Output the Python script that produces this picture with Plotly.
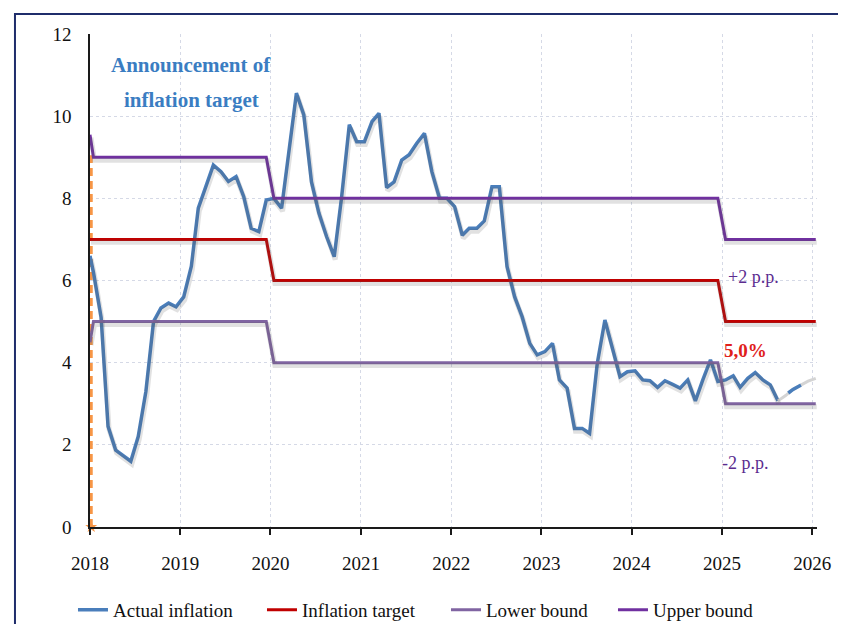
import plotly.graph_objects as go

# ---------------- data ----------------
# Actual inflation, monthly (mid-month), Jan 2018 .. Aug 2025, preceded by the start point
actual_start_date = "2018-01-01"
actual_start_value = 6.6
actual_values = [
    # 2018
    6.2, 5.1, 2.45, 1.87, 1.73, 1.6, 2.2, 3.3, 5.0, 5.33, 5.45, 5.36,
    # 2019
    5.6, 6.35, 7.76, 8.28, 8.81, 8.65, 8.41, 8.53, 8.04, 7.27, 7.19, 7.96,
    # 2020
    8.0, 7.76, 9.1, 10.56, 10.03, 8.4, 7.64, 7.07, 6.58, 8.04, 9.79, 9.38,
    # 2021
    9.38, 9.87, 10.07, 8.26, 8.4, 8.93, 9.06, 9.34, 9.58, 8.65, 8.0, 8.0,
    # 2022
    7.8, 7.1, 7.27, 7.27, 7.45, 8.28, 8.28, 6.34, 5.6, 5.12, 4.47, 4.19,
    # 2023
    4.27, 4.47, 3.58, 3.38, 2.4, 2.4, 2.28, 3.98, 5.04, 4.39, 3.66, 3.78,
    # 2024
    3.8, 3.58, 3.56, 3.4, 3.56, 3.47, 3.38, 3.58, 3.07, 3.58, 4.07, 3.54,
    # 2025
    3.58, 3.68, 3.4, 3.62, 3.76, 3.58, 3.46, 3.07,
]
# Forecast (dashed), Aug 2025 .. Jan 2026
forecast_dates = ["2025-08-15", "2025-09-15", "2025-10-15", "2025-11-15", "2025-12-15", "2026-01-15"]
forecast_values = [3.07, 3.2, 3.35, 3.45, 3.55, 3.62]

# Target corridor (break points)
band_dates = ["2018-01-01", "2018-01-15", "2019-12-15", "2020-01-15", "2024-12-15", "2025-01-15", "2026-01-15"]
target_values = [7, 7, 7, 6, 6, 5, 5]
lower_values = [4.5, 5, 5, 4, 4, 3, 3]
upper_values = [9.55, 9, 9, 8, 8, 7, 7]

# Announcement marker
announce_dates = ["2018-01-06", "2018-01-06"]
announce_values = [0, 9.05]

year_ticks = [f"{y}-01-01" for y in range(2018, 2027)]
year_labels = [str(y) for y in range(2018, 2027)]
y_ticks = [0, 2, 4, 6, 8, 10, 12]

# ---------------- build ----------------
months = []
for y in range(2018, 2026):
    for m in range(1, 13):
        months.append(f"{y}-{m:02d}-15")
actual_dates = [actual_start_date] + months[:len(actual_values)]
actual_all = [actual_start_value] + actual_values

FONT = "Liberation Serif, Times New Roman, serif"
C_ACT = "#4a7ebb"
C_TGT = "#c00000"
C_LOW = "#8064a2"
C_UPP = "#7030a0"
SHADOW = "rgba(90,90,90,0.18)"

fig = go.Figure()

# soft drop shadows (same data drawn on a slightly offset overlay axis pair)
for xs, ys in [(actual_dates, actual_all), (band_dates, target_values),
               (band_dates, lower_values), (band_dates, upper_values)]:
    fig.add_trace(go.Scatter(x=xs, y=ys, mode="lines", xaxis="x2", yaxis="y2",
                             line=dict(color=SHADOW, width=5), showlegend=False,
                             hoverinfo="skip"))

fig.add_trace(go.Scatter(x=announce_dates, y=announce_values, mode="lines",
                         line=dict(color="#f79646", width=3, dash="8px,5px"),
                         showlegend=False, hoverinfo="skip"))
fig.add_trace(go.Scatter(x=announce_dates[:1], y=announce_values[:1], mode="markers",
                         marker=dict(symbol="star", size=9, color="#f79646"),
                         showlegend=False, hoverinfo="skip", cliponaxis=False))

fig.add_trace(go.Scatter(x=actual_dates, y=actual_all, mode="lines", name="Actual inflation",
                         line=dict(color=C_ACT, width=3.5), legendwidth=144))
fig.add_trace(go.Scatter(x=forecast_dates, y=forecast_values, mode="lines",
                         line=dict(color="#d4d4d4", width=3), showlegend=False, hoverinfo="skip"))
fig.add_trace(go.Scatter(x=forecast_dates, y=forecast_values, mode="lines",
                         line=dict(color=C_ACT, width=3.5, dash="0px,13px,15px,12px"),
                         showlegend=False, hoverinfo="skip"))

fig.add_trace(go.Scatter(x=band_dates, y=target_values, mode="lines", name="Inflation target",
                         line=dict(color=C_TGT, width=3), legendwidth=139))
fig.add_trace(go.Scatter(x=band_dates, y=lower_values, mode="lines", name="Lower bound",
                         line=dict(color=C_LOW, width=3), legendwidth=122))
fig.add_trace(go.Scatter(x=band_dates, y=upper_values, mode="lines", name="Upper bound",
                         line=dict(color=C_UPP, width=3), legendwidth=110))

# figure is taller than the window so nothing pushes the margins; only the top 616 px show
fig.update_layout(
    width=846, height=660,
    margin=dict(l=82, r=37, t=26, b=141),
    paper_bgcolor="white", plot_bgcolor="white",
    font=dict(family=FONT, size=19, color="#111111"),
    showlegend=True,
    legend=dict(orientation="h", x=-0.0234, xanchor="left", y=-0.168, yanchor="middle",
                font=dict(family=FONT, size=19, color="#111111"),
                bgcolor="rgba(0,0,0,0)", itemwidth=30, traceorder="normal"),
    xaxis=dict(type="date", range=["2018-01-01", "2026-01-20"],
               tickmode="array", tickvals=year_ticks, ticktext=year_labels,
               showgrid=True, gridcolor="#d5d9e6", griddash="dot", gridwidth=1,
               showline=True, linecolor="#1a1a1a", linewidth=1.5,
               ticks="outside", ticklen=6, tickwidth=1.5, tickcolor="#1a1a1a",
               ticklabelstandoff=12, zeroline=False,
               tickfont=dict(family=FONT, size=19, color="#111111")),
    yaxis=dict(range=[0, 12], tickmode="array", tickvals=y_ticks,
               showgrid=True, gridcolor="#d5d9e6", griddash="dot", gridwidth=1,
               showline=True, linecolor="#1a1a1a", linewidth=1.5,
               ticks="", ticklabelstandoff=13, zeroline=False,
               tickfont=dict(family=FONT, size=19, color="#111111")),
    xaxis2=dict(type="date", overlaying="x", visible=False,
                range=["2017-12-28", "2026-01-16"]),
    yaxis2=dict(overlaying="y", visible=False, range=[0.07, 12.07]),
)

# frame around the whole graphic
fig.add_shape(type="rect", xref="paper", yref="paper",
              x0=-0.1032, x1=1.08, y0=-0.27, y1=1.0406,
              line=dict(color="#1f2d6b", width=2), layer="below")

ann = [
    ("Announcement of", 0.139, 0.937, "#3a7dc2", 21, True),
    ("inflation target", 0.139, 0.866, "#3a7dc2", 21, True),
    ("+2 p.p.", 0.912, 0.507, "#5b2c8f", 18, False),
    ("5,0%", 0.902, 0.359, "#e0201b", 19, True),
    ("-2 p.p.", 0.902, 0.130, "#5b2c8f", 18, False),
]
for text, x, y, col, size, bold in ann:
    fig.add_annotation(x=x, y=y, xref="paper", yref="paper", showarrow=False,
                       text=f"<b>{text}</b>" if bold else text,
                       font=dict(family=FONT, size=size, color=col),
                       xanchor="center", yanchor="middle")

fig.write_html("out.html")
